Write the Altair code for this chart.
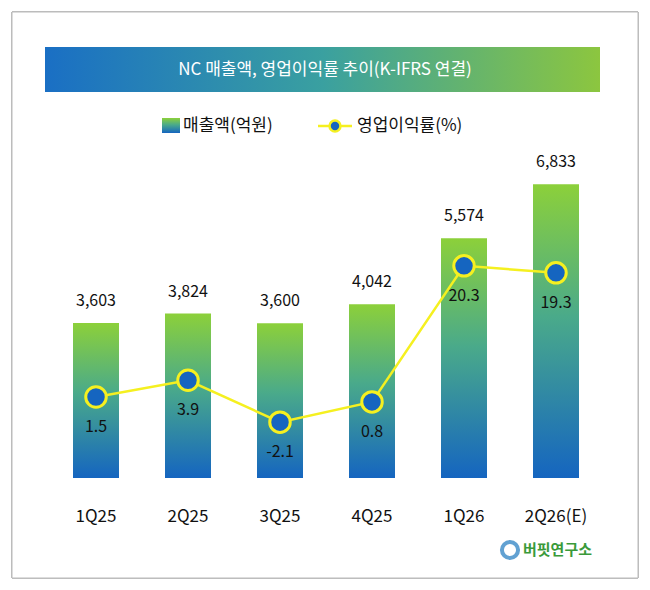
import altair as alt
import pandas as pd

quarters = ["1Q25", "2Q25", "3Q25", "4Q25", "1Q26", "2Q26(E)"]
sales = [3603, 3824, 3600, 4042, 5574, 6833]
margin = [1.5, 3.9, -2.1, 0.8, 20.3, 19.3]

df = pd.DataFrame({"q": quarters, "sales": sales, "margin": margin})
df["sales_lbl"] = df["sales"].map("{:,}".format)
df["margin_lbl"] = df["margin"].map("{:.1f}".format)

FONT = "Noto Sans CJK KR"
x = alt.X("q:N", sort=quarters, axis=alt.Axis(title=None, domain=False, ticks=False, labelFontSize=17,
          labelPadding=30, labelAngle=0, labelFont=FONT, labelColor="#111", zindex=1),
          scale=alt.Scale(paddingInner=0.5, paddingOuter=0.25))
ys = alt.Scale(domain=[0, 7628])
ym = alt.Scale(domain=[-10.1, 36.9])

vgrad = alt.Gradient(gradient="linear", x1=0, x2=0, y1=1, y2=0,
                     stops=[alt.GradientStop(color="#1565c0", offset=0),
                            alt.GradientStop(color="#4aaa8a", offset=0.55),
                            alt.GradientStop(color="#8cd03a", offset=1)])
hgrad = alt.Gradient(gradient="linear", x1=0, x2=1, y1=0, y2=0,
                     stops=[alt.GradientStop(color="#1a6fc4", offset=0),
                            alt.GradientStop(color="#3aa0a0", offset=0.5),
                            alt.GradientStop(color="#8cc63f", offset=1)])

base = alt.Chart(df)
border = base.mark_rect(fill="white", stroke="#bbbbbb", strokeWidth=1).encode(
    x=alt.value(-38), x2=alt.value(588), y=alt.value(-138), y2=alt.value(428))
bars = base.mark_bar(color=vgrad).encode(x=x, y=alt.Y("sales:Q", scale=ys, axis=None))
bar_lbl = base.mark_text(dy=-22, fontSize=16, font=FONT, color="#111").encode(
    x=x, y=alt.Y("sales:Q", scale=ys, axis=None), text="sales_lbl:N")
line = base.mark_line(color="#f5f020", strokeWidth=2.5).encode(
    x=x, y=alt.Y("margin:Q", scale=ym, axis=None))
pts = base.mark_point(filled=True, fill="#1565c0", stroke="#f5f020", strokeWidth=3, size=420, opacity=1).encode(
    x=x, y=alt.Y("margin:Q", scale=ym, axis=None))
m_lbl = base.mark_text(dy=30, fontSize=16, font=FONT, color="#111").encode(
    x=x, y=alt.Y("margin:Q", scale=ym, axis=None), text="margin_lbl:N")

one = pd.DataFrame({"a": [0]})
o = alt.Chart(one)
banner = o.mark_rect(color=hgrad).encode(x=alt.value(-5), x2=alt.value(550), y=alt.value(-103), y2=alt.value(-58))
title = o.mark_text(text="NC 매출액, 영업이익률 추이(K-IFRS 연결)", color="white", fontSize=17, font=FONT).encode(
    x=alt.value(275), y=alt.value(-80))
leg_box = o.mark_rect(color=vgrad).encode(x=alt.value(112), x2=alt.value(130), y=alt.value(-32), y2=alt.value(-17))
leg_t1 = o.mark_text(text="매출액(억원)", align="left", fontSize=17, font=FONT, color="#111").encode(
    x=alt.value(133), y=alt.value(-24))
leg_line = o.mark_rule(color="#f5f020", strokeWidth=2.5).encode(
    x=alt.value(268), x2=alt.value(302), y=alt.value(-24))
leg_pt = o.mark_point(filled=True, fill="#1565c0", stroke="#f5f020", strokeWidth=2.5, size=120, opacity=1).encode(
    x=alt.value(285), y=alt.value(-24))
leg_t2 = o.mark_text(text="영업이익률(%)", align="left", fontSize=17, font=FONT, color="#111").encode(
    x=alt.value(307), y=alt.value(-24))
logo_c = o.mark_point(filled=False, stroke="#1f7ac0", strokeWidth=4, size=260).encode(
    x=alt.value(460), y=alt.value(400))
logo = o.mark_text(text="버핏연구소", align="left", fontSize=15, fontWeight="bold", font=FONT, color="#3a9a3a").encode(
    x=alt.value(473), y=alt.value(400))

chart = alt.layer(border, banner, title, leg_box, leg_t1, leg_line, leg_pt, leg_t2,
                  bars, bar_lbl, line, pts, m_lbl, logo_c, logo).resolve_scale(y="independent").properties(
    width=552, height=328, autosize=alt.AutoSizeParams(type="none"),
    padding={"left": 42, "top": 142, "right": 40, "bottom": 104}
).configure_view(stroke=None)

chart.save("out.html", embed_options={"renderer": "svg", "actions": False})
